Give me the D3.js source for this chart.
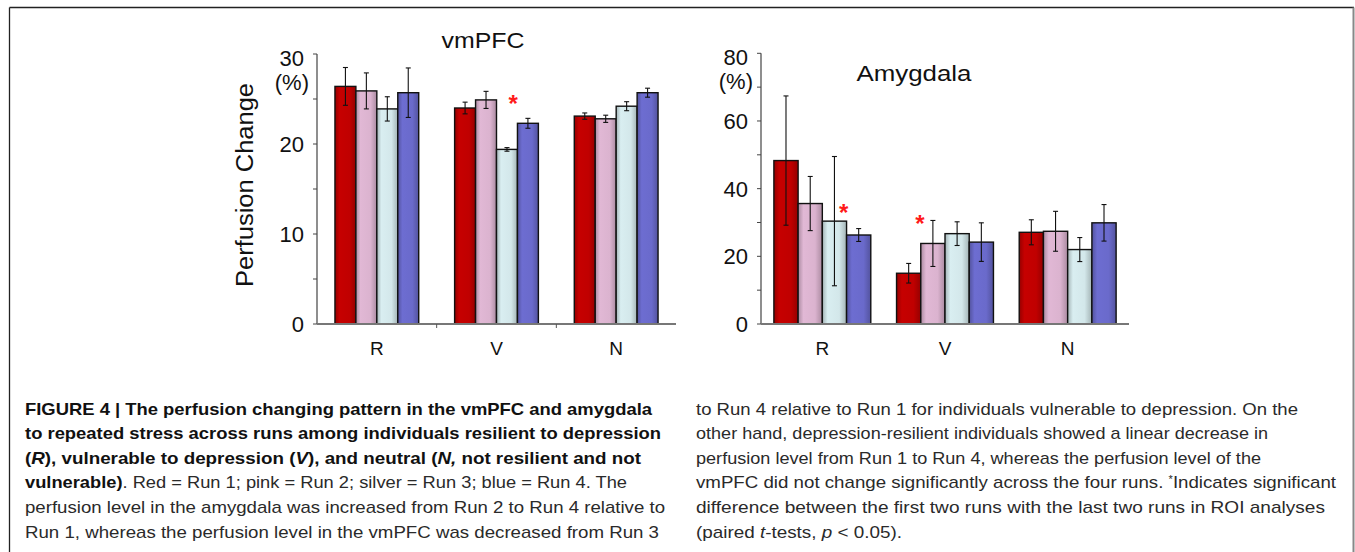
<!DOCTYPE html>
<html>
<head>
<meta charset="utf-8">
<script src="https://cdn.jsdelivr.net/npm/d3@7"></script>
<style>
  html, body { margin: 0; padding: 0; background: #fff; }
  svg { display: block; }
  text { font-family: "Liberation Sans", Arial, sans-serif; }
</style>
</head>
<body>
<svg id="fig" width="1355" height="552"></svg>
<script>
// ---------------- DATA ----------------
const groups = ["R", "V", "N"];
const runs = ["Run 1", "Run 2", "Run 3", "Run 4"];
const runColors = ["#c00000", "#dbb3cf", "#d3e7ea", "#6a6acb"];

// vmPFC perfusion change (%), rows = R, V, N ; cols = Run 1..4
const vmpfcMeans = [
  [26.4, 25.9, 23.9, 25.7],
  [24.0, 24.9, 19.4, 22.3],
  [23.1, 22.8, 24.2, 25.7]
];
const vmpfcErrors = [
  [2.1, 2.0, 1.35, 2.75],
  [0.65, 0.95, 0.2, 0.55],
  [0.35, 0.4, 0.5, 0.5]
];
// Amygdala perfusion change (%)
const amygMeans = [
  [48.3, 35.6, 30.4, 26.3],
  [15.0, 23.8, 26.7, 24.2],
  [27.1, 27.4, 22.0, 29.9]
];
const amygErrors = [
  [19.1, 8.0, 19.1, 1.9],
  [2.9, 6.8, 3.5, 5.7],
  [3.7, 5.9, 3.55, 5.4]
];
const vmpfcTicks = [0, 10, 20, 30];
const amygTicks = [0, 20, 40, 60, 80];
// significance stars: group, fractional position within group, value height
const vmpfcStars = [{ group: "V", frac: 0.70, value: 25.6 }];
const amygStars = [
  { group: "R", frac: 0.72, value: 35.8 },
  { group: "V", frac: 0.24, value: 32.5 }
];

// caption lines (segments: text, bold, italic, sup)
const captionLeft = [
  [{ t: "FIGURE 4 | The perfusion changing pattern in the vmPFC and amygdala", b: 1 }],
  [{ t: "to repeated stress across runs among individuals resilient to depression", b: 1 }],
  [{ t: "(", b: 1 }, { t: "R", b: 1, i: 1 }, { t: "), vulnerable to depression (", b: 1 }, { t: "V", b: 1, i: 1 },
   { t: "), and neutral (", b: 1 }, { t: "N,", b: 1, i: 1 }, { t: " not resilient and not", b: 1 }],
  [{ t: "vulnerable)", b: 1 }, { t: ". Red = Run 1; pink = Run 2; silver = Run 3; blue = Run 4. The" }],
  [{ t: "perfusion level in the amygdala was increased from Run 2 to Run 4 relative to" }],
  [{ t: "Run 1, whereas the perfusion level in the vmPFC was decreased from Run 3" }]
];
const captionRight = [
  [{ t: "to Run 4 relative to Run 1 for individuals vulnerable to depression. On the" }],
  [{ t: "other hand, depression-resilient individuals showed a linear decrease in" }],
  [{ t: "perfusion level from Run 1 to Run 4, whereas the perfusion level of the" }],
  [{ t: "vmPFC did not change significantly across the four runs. " }, { t: "*", sup: 1 }, { t: "Indicates significant" }],
  [{ t: "difference between the first two runs with the last two runs in ROI analyses" }],
  [{ t: "(paired " }, { t: "t", i: 1 }, { t: "-tests, " }, { t: "p", i: 1 }, { t: " < 0.05)." }]
];

// ---------------- LAYOUT ----------------
const svg = d3.select("#fig");

// frame
svg.append("line").attr("x1", 9.5).attr("x2", 1354).attr("y1", 7.5).attr("y2", 7.5)
  .attr("stroke", "#222").attr("stroke-width", 1.3);
svg.append("line").attr("x1", 9.5).attr("x2", 9.5).attr("y1", 7.5).attr("y2", 552)
  .attr("stroke", "#222").attr("stroke-width", 1.3);
svg.append("line").attr("x1", 1353.5).attr("x2", 1353.5).attr("y1", 7.5).attr("y2", 552)
  .attr("stroke", "#888").attr("stroke-width", 2);

// gradients for bar shading
const defs = svg.append("defs");
runColors.forEach((c, i) => {
  const g = defs.append("linearGradient").attr("id", "grad" + i)
    .attr("x1", "0%").attr("x2", "100%").attr("y1", "0%").attr("y2", "0%");
  const dark = d3.color(c).darker(0.7);
  const light = d3.color(c).brighter(0.08);
  g.append("stop").attr("offset", "0%").attr("stop-color", dark);
  g.append("stop").attr("offset", "22%").attr("stop-color", light);
  g.append("stop").attr("offset", "70%").attr("stop-color", c);
  g.append("stop").attr("offset", "100%").attr("stop-color", dark);
});

const charts = [
  {
    title: "vmPFC", titleX: 483, titleY: 48, titleLen: 83,
    means: vmpfcMeans, errors: vmpfcErrors, ticks: vmpfcTicks, minorStep: 5, yMax: 30,
    x0: 317, x1: 676, yTop: 54, yBottom: 324, pad: 0.3,
    ylabel: "Perfusion Change", ylabelX: 245, ylabelY: 185, ylabelLen: 204,
    stars: vmpfcStars, groupTicks: true
  },
  {
    title: "Amygdala", titleX: 914, titleY: 81, titleLen: 115,
    means: amygMeans, errors: amygErrors, ticks: amygTicks, minorStep: 10, yMax: 80,
    x0: 761, x1: 1129, yTop: 53.3, yBottom: 324, pad: 0.21,
    ylabel: null, stars: amygStars, groupTicks: false
  }
];

charts.forEach(ch => {
  const g = svg.append("g");
  const y = d3.scaleLinear().domain([0, ch.yMax]).range([ch.yBottom, ch.yTop]);
  const x = d3.scaleBand().domain(groups).range([ch.x0, ch.x1])
    .paddingInner(ch.pad).paddingOuter(ch.pad / 2);
  const xr = d3.scaleBand().domain(runs).range([0, x.bandwidth()]).padding(0);

  // minor ticks
  const minor = d3.range(0, ch.yMax + 0.001, ch.minorStep);
  g.selectAll(".mt").data(minor).join("line")
    .attr("x1", ch.x0 - 4).attr("x2", ch.x0)
    .attr("y1", d => y(d)).attr("y2", d => y(d))
    .attr("stroke", "#444").attr("stroke-width", 1);

  // y axis line
  g.append("line").attr("x1", ch.x0).attr("x2", ch.x0)
    .attr("y1", ch.yTop).attr("y2", ch.yBottom)
    .attr("stroke", "#444").attr("stroke-width", 1.2);

  // tick labels
  g.selectAll(".tl").data(ch.ticks).join("text")
    .attr("x", ch.x0 - 13).attr("y", d => y(d))
    .attr("dy", d => d === ch.yMax ? "0.55em" : "0.36em")
    .attr("text-anchor", "end").attr("font-size", 22).attr("fill", "#111")
    .text(d => d);
  g.append("text").attr("x", ch.x0 - 8).attr("y", y(ch.yMax) + 28)
    .attr("dy", "0.36em").attr("text-anchor", "end")
    .attr("font-size", 22).attr("fill", "#111").text("(%)");

  // bars
  const data = [];
  groups.forEach((gr, gi) => runs.forEach((r, ri) => {
    data.push({ gr, r, ri, v: ch.means[gi][ri], e: ch.errors[gi][ri] });
  }));
  g.selectAll(".bar").data(data).join("rect")
    .attr("x", d => x(d.gr) + xr(d.r))
    .attr("y", d => y(d.v))
    .attr("width", xr.bandwidth())
    .attr("height", d => y(0) - y(d.v))
    .attr("fill", d => `url(#grad${d.ri})`)
    .attr("stroke", "#111").attr("stroke-width", 1.4);

  // error bars
  const cx = d => x(d.gr) + xr(d.r) + xr.bandwidth() / 2;
  const eb = g.selectAll(".eb").data(data).join("g");
  eb.append("line").attr("x1", cx).attr("x2", cx)
    .attr("y1", d => y(d.v + d.e)).attr("y2", d => y(d.v - d.e))
    .attr("stroke", "#111").attr("stroke-width", 1.1);
  eb.append("line").attr("x1", d => cx(d) - 2.5).attr("x2", d => cx(d) + 2.5)
    .attr("y1", d => y(d.v + d.e)).attr("y2", d => y(d.v + d.e))
    .attr("stroke", "#111").attr("stroke-width", 1.1);
  eb.append("line").attr("x1", d => cx(d) - 2.5).attr("x2", d => cx(d) + 2.5)
    .attr("y1", d => y(d.v - d.e)).attr("y2", d => y(d.v - d.e))
    .attr("stroke", "#111").attr("stroke-width", 1.1);

  // x axis baseline
  g.append("line").attr("x1", ch.x0).attr("x2", ch.x1)
    .attr("y1", ch.yBottom).attr("y2", ch.yBottom)
    .attr("stroke", "#777").attr("stroke-width", 1.8);
  if (ch.groupTicks) {
    const bounds = groups.slice(1).map(gr => x(gr) - x.step() * ch.pad / 2);
    g.selectAll(".gt").data(bounds).join("line")
      .attr("x1", d => d).attr("x2", d => d)
      .attr("y1", ch.yBottom).attr("y2", ch.yBottom + 4)
      .attr("stroke", "#555").attr("stroke-width", 1);
  }
  // group labels
  g.selectAll(".gl").data(groups).join("text")
    .attr("x", d => x(d) + x.bandwidth() / 2)
    .attr("y", ch.yBottom + 31)
    .attr("text-anchor", "middle").attr("font-size", 19).attr("fill", "#111")
    .text(d => d);

  // stars
  g.selectAll(".st").data(ch.stars).join("text")
    .attr("x", d => x(d.group) + d.frac * x.bandwidth())
    .attr("y", d => y(d.value))
    .attr("dy", "0.75em")
    .attr("text-anchor", "middle").attr("font-size", 24).attr("font-weight", "bold")
    .attr("fill", "#ff1a1a").text("*");

  // title
  g.append("text").attr("x", ch.titleX).attr("y", ch.titleY)
    .attr("text-anchor", "middle").attr("font-size", 22).attr("fill", "#111")
    .attr("textLength", ch.titleLen).attr("lengthAdjust", "spacingAndGlyphs")
    .text(ch.title);

  // y label
  if (ch.ylabel) {
    g.append("text")
      .attr("transform", `translate(${ch.ylabelX},${ch.ylabelY}) rotate(-90)`)
      .attr("text-anchor", "middle").attr("dy", "0.36em")
      .attr("font-size", 23).attr("fill", "#111")
      .attr("textLength", ch.ylabelLen).attr("lengthAdjust", "spacingAndGlyphs")
      .text(ch.ylabel);
  }
});

// ---------------- CAPTION ----------------
const capLeftWidths = [627, 636, 616, 602, 640, 634];
const capRightWidths = [602, 572, 565, 640, 629, 206];
function drawCaption(lines, widths, x0) {
  lines.forEach((segs, li) => {
    const t = svg.append("text")
      .attr("x", x0).attr("y", 414.5 + li * 24.6)
      .attr("font-size", 17).attr("fill", "#2a2a2a")
      .attr("textLength", widths[li]).attr("lengthAdjust", "spacingAndGlyphs");
    segs.forEach(s => {
      const ts = t.append("tspan").text(s.t);
      if (s.b) ts.attr("font-weight", "bold").attr("fill", "#111");
      if (s.i) ts.attr("font-style", "italic");
      if (s.sup) ts.attr("font-size", 10).attr("baseline-shift", "super");
    });
  });
}
drawCaption(captionLeft, capLeftWidths, 25);
drawCaption(captionRight, capRightWidths, 696);
</script>
</body>
</html>
